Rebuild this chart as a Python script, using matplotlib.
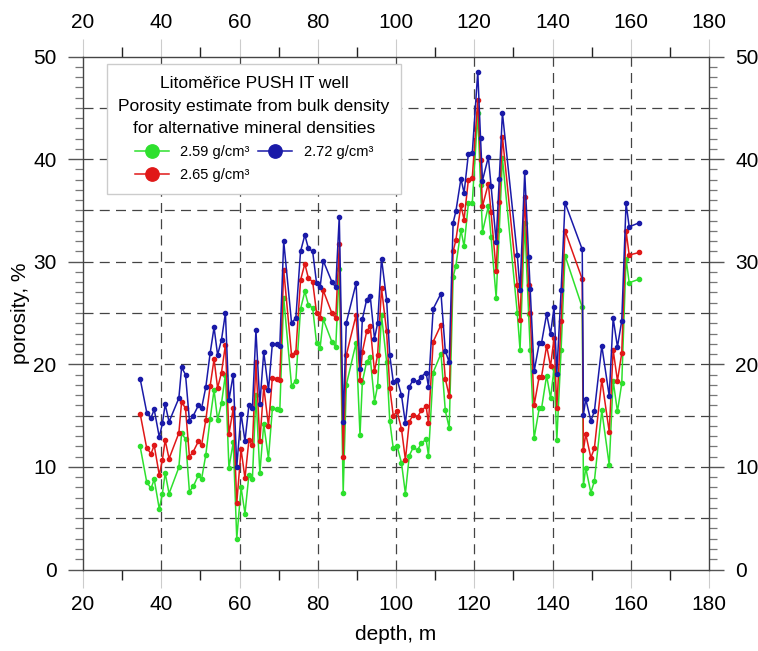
import numpy as np
import matplotlib
matplotlib.use("Agg")
import matplotlib.pyplot as plt
from matplotlib.ticker import MultipleLocator

plt.rcParams['font.family'] = ['Liberation Sans Narrow', 'Liberation Sans', 'DejaVu Sans']

# depth of each sample, m
depth = [34.6, 36.3, 37.4, 38.2, 39.5, 40.3, 41.0, 42.0, 44.5, 45.2, 46.2, 47.2, 48.2, 49.5,
         50.3, 51.4, 52.5, 53.5, 54.4, 55.4, 56.4, 57.3, 58.4, 59.3, 60.4, 61.4, 62.4, 63.3,
         64.2, 65.2, 66.2, 67.4, 68.4, 69.5, 70.3, 71.3, 73.3, 74.4, 75.6, 76.7, 77.6, 78.7,
         79.7, 80.6, 81.4, 83.6, 84.6, 85.5, 86.5, 87.3, 89.8, 90.8, 91.4, 92.5, 93.4, 94.5,
         95.3, 96.3, 97.6, 98.4, 99.3, 100.3, 101.4, 102.4, 103.4, 104.4, 105.5, 106.5, 107.7,
         108.3, 109.5, 111.5, 112.6, 113.6, 114.6, 115.3, 116.6, 117.4, 118.5, 119.5, 120.9,
         121.6, 122.1, 123.6, 124.3, 125.6, 126.4, 127.2, 131.0, 131.7, 132.9, 133.9, 134.3,
         135.3, 136.6, 137.2, 138.5, 139.5, 140.4, 141.1, 142.2, 143.2, 147.6, 147.9, 148.5,
         149.8, 150.7, 152.6, 154.5, 155.5, 156.6, 157.7, 158.8, 159.6, 162.2]

# porosity (%) for mineral density 2.59 g/cm3
por_259 = [12.0, 8.5, 7.9, 8.8, 5.9, 7.4, 9.4, 7.4, 9.95, 13.3, 12.7, 7.6, 8.1, 9.2,
           8.8, 11.2, 14.7, 17.5, 14.6, 16.2, 19.0, 9.9, 12.4, 3.0, 8.0, 5.45, 9.2, 8.85,
           17.0, 9.4, 14.2, 10.8, 15.7, 15.6, 15.5, 26.5, 17.9, 18.4, 25.4, 27.1, 25.8, 25.5,
           22.05, 21.6, 24.4, 22.2, 21.7, 29.25, 7.5, 18.0, 22.1, 13.1, 18.3, 20.25, 20.7, 16.35,
           17.9, 24.8, 20.25, 14.5, 11.8, 12.0, 10.4, 7.4, 11.1, 11.9, 11.65, 12.3, 12.7,
           11.1, 19.2, 21.05, 15.5, 13.8, 28.5, 29.6, 33.1, 31.5, 35.7, 35.75, 44.5,
           37.5, 32.9, 35.4, 32.4, 26.5, 33.1, 40.1, 25.0, 21.4, 33.8, 24.9, 21.4,
           12.8, 15.7, 15.7, 18.9, 16.7, 19.6, 12.6, 21.4, 30.6, 25.55, 8.2, 9.9,
           7.5, 8.6, 15.5, 10.2, 18.4, 15.4, 18.15, 30.3, 27.95, 28.3]

# porosity (%) for mineral density 2.65 g/cm3
por_265 = [15.2, 11.8, 11.3, 12.1, 9.2, 10.7, 12.6, 10.8, 13.3, 16.35, 15.7, 11.0, 11.5, 12.5,
           12.1, 14.6, 17.9, 20.5, 17.7, 19.2, 21.9, 13.2, 15.7, 6.45, 11.7, 8.9, 12.6, 12.1,
           20.2, 12.5, 17.8, 14.0, 18.7, 18.6, 18.5, 29.2, 20.9, 21.2, 28.2, 29.8, 28.4, 28.05,
           25.0, 24.5, 27.2, 25.0, 24.5, 31.7, 11.0, 20.9, 24.8, 18.5, 21.2, 23.2, 23.7, 19.3,
           20.9, 27.4, 23.2, 17.7, 15.0, 15.4, 13.7, 10.7, 14.4, 15.1, 14.9, 15.5, 15.9,
           14.25, 22.2, 23.85, 18.6, 16.9, 31.0, 32.1, 35.5, 34.1, 38.0, 38.2, 45.8,
           39.9, 35.4, 37.6, 34.8, 29.1, 35.8, 42.2, 27.7, 24.3, 36.3, 27.7, 25.0,
           16.0, 18.8, 18.8, 21.8, 19.8, 22.6, 15.7, 24.2, 33.0, 28.3, 11.6, 13.2,
           10.9, 11.8, 18.5, 13.4, 21.4, 18.4, 21.1, 33.0, 30.65, 30.9]

# porosity (%) for mineral density 2.72 g/cm3
por_272 = [18.6, 15.3, 14.8, 15.6, 12.9, 14.25, 16.1, 14.4, 16.7, 19.7, 19.0, 14.5, 15.0, 16.0,
           15.7, 17.8, 21.1, 23.6, 20.9, 22.4, 25.0, 16.5, 19.0, 10.0, 15.2, 12.5, 16.0, 15.7,
           23.3, 16.1, 21.2, 17.5, 22.0, 22.0, 21.8, 32.0, 24.05, 24.5, 31.0, 32.6, 31.3, 31.0,
           27.9, 27.5, 30.1, 28.05, 27.5, 34.4, 14.4, 24.05, 27.9, 19.5, 24.4, 26.3, 26.7, 22.5,
           24.0, 30.3, 26.3, 20.9, 18.3, 18.5, 17.0, 14.25, 17.8, 18.5, 18.3, 18.8, 19.2,
           17.8, 25.4, 26.9, 21.3, 20.2, 33.8, 34.9, 38.1, 36.7, 40.5, 40.6, 48.5,
           42.1, 37.9, 40.2, 37.4, 31.95, 38.1, 44.5, 30.65, 27.2, 38.7, 30.5, 27.3,
           19.3, 22.05, 22.1, 24.9, 22.95, 25.6, 19.1, 27.2, 35.75, 31.2, 15.1, 16.6,
           14.5, 15.4, 21.8, 16.9, 24.5, 21.7, 24.25, 35.7, 33.4, 33.8]

labels = ['2.59 g/cm³', '2.65 g/cm³', '2.72 g/cm³']
colors = ['#2ee02e', '#e01818', '#1a1aa8']

fig = plt.figure(figsize=(7.58, 6.51), dpi=100)
ax = fig.add_axes([83 / 758, 1 - 569.5 / 651, 626 / 758, 513 / 651])

for vals, lab, col in zip([por_259, por_265, por_272], labels, colors):
    ax.plot(depth, vals, color=col, lw=1.1, marker='o', ms=3.0, mec=col, label=lab)

ax.set_xlim(20, 180)
ax.set_ylim(0, 50)

# dashed grid
for gx in range(40, 180, 20):
    ax.axvline(gx, color='#444444', lw=0.9, ls=(0, (8, 5)), zorder=0)
for gy in range(5, 50, 5):
    ax.axhline(gy, color='#444444', lw=0.9, ls=(0, (8, 5)), zorder=0)

ax.xaxis.set_major_locator(MultipleLocator(20))
ax.xaxis.set_minor_locator(MultipleLocator(10))
ax.yaxis.set_major_locator(MultipleLocator(10))
ax.yaxis.set_minor_locator(MultipleLocator(1))

ax.tick_params(axis='both', which='both', direction='out', top=True, right=True,
               labeltop=True, labelright=True, labelsize=15)
ax.tick_params(axis='x', which='major', length=13, width=0.8, color='#cccccc', pad=5)
ax.tick_params(axis='x', which='minor', length=7, width=1.0, color='#222222')
ax.tick_params(axis='y', which='major', length=11, width=1.0, color='#555555', pad=8)
ax.tick_params(axis='y', which='minor', length=6, width=0.9, color='#777777')

for s in ax.spines.values():
    s.set_color('#444444')
    s.set_linewidth(1.0)

fig.text(396 / 758, 1 - 634 / 651, 'depth, m', ha='center', va='center', fontsize=15)
fig.text(21 / 758, 1 - 313 / 651, 'porosity, %', ha='center', va='center',
         rotation=90, fontsize=15)

leg = ax.legend(ncol=2, loc='upper left', bbox_to_anchor=(0.038, 0.985),
                borderaxespad=0,
                title='Litoměřice PUSH IT well\nPorosity estimate from bulk density\n'
                      'for alternative mineral densities',
                fontsize=10.5, title_fontsize=12.6, markerscale=3.2,
                handlelength=2.3, handletextpad=0.8, columnspacing=0.6,
                labelspacing=0.6, borderpad=0.8, fancybox=False, framealpha=1,
                edgecolor='#cccccc')
leg.get_title().set_multialignment('center')
leg.get_title().set_linespacing(1.65)
leg.get_frame().set_linewidth(1.0)

fig.savefig('out.png', dpi=100)
